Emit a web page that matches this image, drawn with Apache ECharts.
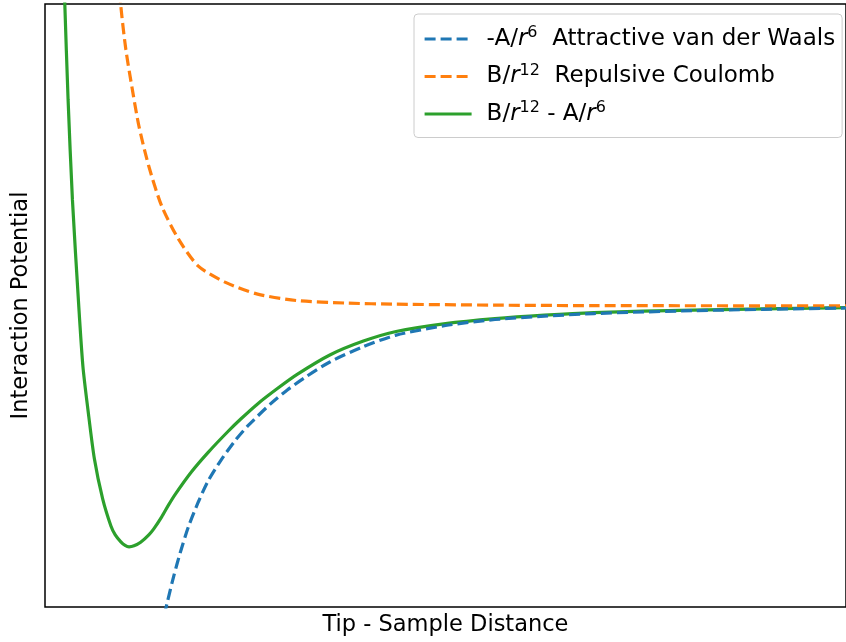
<!DOCTYPE html>
<html>
<head>
<meta charset="utf-8">
<script src="https://cdn.jsdelivr.net/npm/echarts@6/dist/echarts.min.js"></script>
<style>
  html, body { margin: 0; padding: 0; background: #fff; }
  #chart { width: 846px; height: 642px; }
</style>
</head>
<body>
<div id="chart"></div>
<script>
// values (distance in arbitrary units, potential in units of well depth)
const attractiveX = [14.44, 15.22, 16.05, 16.88, 17.90, 19.14, 20.37, 21.98, 23.70, 25.31, 28.15, 30.25, 32.35, 35.56, 39.75, 43.83, 50.0, 56.17, 62.35, 68.52, 80.86, 100]
const attractiveY = [-1.354, -1.242, -1.129, -1.029, -0.921, -0.817, -0.729, -0.642, -0.5625, -0.5, -0.408, -0.35, -0.3, -0.233, -0.169, -0.121, -0.081, -0.056, -0.042, -0.031, -0.019, -0.008]

const repulsiveX = [9.01, 9.47, 10.09, 10.90, 11.73, 12.96, 14.57, 16.67, 19.14, 22.47, 26.54, 31.48, 37.65, 43.83, 56.17, 68.52, 100]
const repulsiveY = [1.446, 1.25, 1.071, 0.904, 0.75, 0.583, 0.417, 0.279, 0.167, 0.1, 0.05, 0.023, 0.0125, 0.008, 0.004, 0.002, 0.001]

const totalX = [2.22, 2.47, 2.88, 3.42, 4.20, 4.73, 5.35, 6.17, 7.20, 8.23, 8.77, 9.47, 10.0, 10.49, 11.11, 11.94, 12.96, 13.58, 14.57, 15.43, 16.30, 18.27, 20.37, 22.84, 24.44, 26.54, 29.01, 31.48, 35.56, 39.75, 43.83, 50.0, 56.17, 62.35, 68.52, 80.86, 100]
const totalY = [1.529, 1.263, 0.863, 0.446, 0.008, -0.25, -0.429, -0.638, -0.804, -0.917, -0.954, -0.983, -0.998, -1.004, -1.0, -0.985, -0.954, -0.929, -0.879, -0.829, -0.783, -0.692, -0.61, -0.523, -0.471, -0.408, -0.344, -0.285, -0.204, -0.146, -0.106, -0.073, -0.052, -0.0375, -0.027, -0.0167, -0.006]

const seriesNames = ['attractive', 'repulsive', 'total']
const legendLabels = {
  attractive: '-A/{it|r}{sup|6}  Attractive van der Waals',
  repulsive: 'B/{it|r}{sup|12}  Repulsive Coulomb',
  total: 'B/{it|r}{sup|12} - A/{it|r}{sup|6}'
}

const font = 'DejaVu Sans'
const zip = (xs, ys) => xs.map((x, i) => [x, ys[i]])

const chart = echarts.init(document.getElementById('chart'), null, { renderer: 'canvas' })

function lineSeries(name, data, color, dashed, z) {
  return {
    name: name,
    type: 'line',
    data: data,
    symbol: 'none',
    smooth: 0.25,
    clip: true,
    z: z,
    lineStyle: { color: color, width: 3.2, type: dashed ? [11, 5] : 'solid' },
    itemStyle: { color: color },
    animation: false
  }
}

chart.setOption({
  animation: false,
  grid: {
    left: 45,
    right: -9,
    top: 4,
    bottom: 34,
    show: true,
    borderColor: '#000',
    borderWidth: 1.5,
    backgroundColor: 'transparent'
  },
  xAxis: {
    type: 'value',
    min: 0,
    max: 100,
    name: 'Tip - Sample Distance',
    nameLocation: 'middle',
    nameGap: 7,
    nameTextStyle: { fontFamily: font, fontSize: 22.5, color: '#000' },
    axisLine: { show: false },
    axisTick: { show: false },
    axisLabel: { show: false },
    splitLine: { show: false }
  },
  yAxis: {
    type: 'value',
    min: -1.255,
    max: 1.26,
    name: 'Interaction Potential',
    nameLocation: 'middle',
    nameGap: 12,
    nameRotate: 90,
    nameTextStyle: { fontFamily: font, fontSize: 22.5, color: '#000' },
    axisLine: { show: false },
    axisTick: { show: false },
    axisLabel: { show: false },
    splitLine: { show: false }
  },
  legend: {
    data: seriesNames,
    orient: 'vertical',
    left: 414,
    top: 14,
    padding: [11, 7, 12, 9],
    itemWidth: 47,
    itemHeight: 20,
    itemGap: 12,
    itemStyle: { opacity: 0 },
    lineStyle: { width: 3.2 },
    backgroundColor: 'rgba(255,255,255,0.8)',
    borderColor: '#cccccc',
    borderWidth: 1,
    borderRadius: 4,
    formatter: (name) => legendLabels[name],
    textStyle: {
      fontFamily: font,
      fontSize: 23,
      color: '#000',
      padding: [0, 0, 0, 10],
      rich: {
        it: { fontFamily: font, fontSize: 23, fontStyle: 'italic', color: '#000' },
        sup: { fontFamily: font, fontSize: 16, color: '#000', padding: [0, 0, 12, 0] }
      }
    }
  },
  series: [
    lineSeries('total', zip(totalX, totalY), '#2ca02c', false, 2),
    lineSeries('repulsive', zip(repulsiveX, repulsiveY), '#ff7f0e', true, 3),
    lineSeries('attractive', zip(attractiveX, attractiveY), '#1f77b4', true, 4)
  ]
})
</script>
</body>
</html>
